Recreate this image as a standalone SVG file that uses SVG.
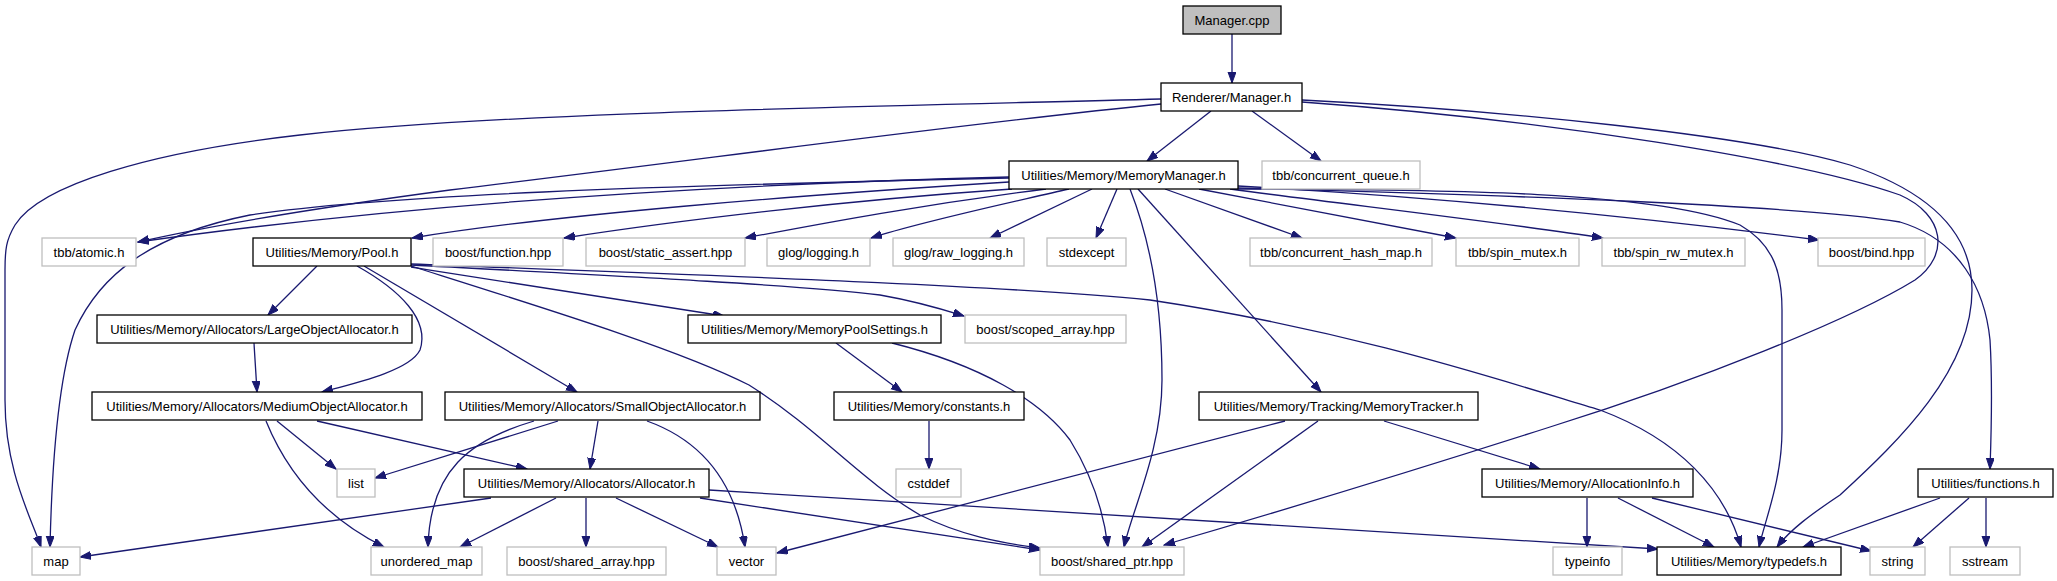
<svg xmlns="http://www.w3.org/2000/svg" width="2057" height="581" viewBox="0 0 2057 581">
<style>
.n rect{fill:#fff;stroke:#000;stroke-width:1.3}
.u rect{fill:#fff;stroke:#bfbfbf;stroke-width:1.3}
.root rect{fill:#bfbfbf;stroke:#000;stroke-width:1.3}
text{font-family:"Liberation Sans",Arial,sans-serif;font-size:13px;fill:#000;text-anchor:middle}
.e path{fill:none;stroke:#191970;stroke-width:1.3;marker-end:url(#a)}
</style>
<defs>
<marker id="a" markerUnits="userSpaceOnUse" markerWidth="12" markerHeight="9" refX="11" refY="4" orient="auto">
<path d="M0,0 L11,4 L0,8 z" fill="#191970" stroke="#191970" stroke-width="1"/>
</marker>
</defs>
<rect width="2057" height="581" fill="#fff"/>
<g class="e" id="edges">
<path d="M1232,34 L1232,83"/>
<path d="M1211,111 L1147,161"/>
<path d="M1252,111 L1321,161"/>
<path d="M1161,99 C900,106 500,112 300,135 C150,152 40,185 15,225 C6,240 5,250 5,270 L5,400 C5,470 30,515 41,547"/>
<path d="M1161,104 C950,125 700,160 450,190 C300,210 200,228 138,242"/>
<path d="M1009,177 C700,185 400,205 138,242"/>
<path d="M1009,178 C650,186 380,195 250,215 C150,235 100,275 75,330 C58,380 52,460 50,547"/>
<path d="M1009,182 C800,195 550,215 412,238"/>
<path d="M1012,189 C850,200 680,220 564,238"/>
<path d="M1046,189 C920,205 830,222 745,238"/>
<path d="M1069,189 C1000,205 920,222 871,238"/>
<path d="M1092,189 L990,238"/>
<path d="M1117,189 L1096,238"/>
<path d="M1130,189 C1150,240 1162,300 1162,380 C1162,450 1132,510 1124,547"/>
<path d="M1138,189 L1321,392"/>
<path d="M1165,189 L1302,238"/>
<path d="M1199,189 L1456,238"/>
<path d="M1230,189 C1350,205 1500,222 1603,238"/>
<path d="M1238,186 C1400,195 1600,212 1819,240"/>
<path d="M1234,189 C1400,190 1650,188 1740,225 C1775,245 1782,275 1782,310 L1782,430 C1782,480 1765,520 1759,547"/>
<path d="M1238,188 C1500,195 1800,205 1900,222 C1960,240 1985,290 1990,340 C1993,390 1991,440 1990,469"/>
<path d="M1302,100 C1500,110 1750,135 1850,165 C1940,195 1972,240 1972,290 C1972,370 1900,440 1840,495 C1810,515 1790,530 1777,547"/>
<path d="M1302,102 C1550,120 1800,160 1900,195 C1945,215 1950,255 1915,280 C1850,320 1700,380 1550,427 C1400,475 1250,520 1164,545"/>
<path d="M317,266 L268,315"/>
<path d="M357,266 C400,290 430,320 420,350 C410,370 360,382 322,392"/>
<path d="M364,266 L577,392"/>
<path d="M411,267 C520,285 630,302 724,316"/>
<path d="M411,265 C600,275 800,285 880,295 C920,302 945,310 964,316"/>
<path d="M411,264 C700,275 1000,285 1150,300 C1350,330 1500,380 1600,410 C1680,440 1725,490 1741,547"/>
<path d="M411,266 C550,310 680,350 749,385 C820,430 860,480 920,515 C960,535 1000,543 1040,548"/>
<path d="M836,343 L902,392"/>
<path d="M892,343 C980,365 1040,400 1070,440 C1095,480 1104,515 1108,547"/>
<path d="M929,421 L929,469"/>
<path d="M254,343 L257,392"/>
<path d="M277,421 L336,469"/>
<path d="M266,421 C290,480 330,520 384,547"/>
<path d="M317,421 L527,469"/>
<path d="M558,421 L375,478"/>
<path d="M534,421 C470,440 430,470 428,547"/>
<path d="M598,421 L590,469"/>
<path d="M647,421 C700,440 735,480 745,547"/>
<path d="M491,498 L80,557"/>
<path d="M556,498 L460,547"/>
<path d="M586,498 L586,547"/>
<path d="M616,498 L718,547"/>
<path d="M700,498 L1040,550"/>
<path d="M709,490 L1658,549"/>
<path d="M1285,421 L777,553"/>
<path d="M1318,421 L1142,547"/>
<path d="M1384,421 L1540,469"/>
<path d="M1587,498 L1587,547"/>
<path d="M1618,498 L1714,547"/>
<path d="M1652,498 L1871,551"/>
<path d="M1940,498 L1803,547"/>
<path d="M1969,498 L1913,547"/>
<path d="M1986,498 L1986,547"/>
</g>
<g id="n_manager_cpp" class="root"><rect x="1183" y="6" width="98" height="28"/><text x="1232" y="24.8">Manager.cpp</text></g>
<g id="n_renderer_manager" class="n"><rect x="1161" y="83" width="141" height="28"/><text x="1231.5" y="101.8">Renderer/Manager.h</text></g>
<g id="n_memorymanager" class="n"><rect x="1009" y="161" width="229" height="28"/><text x="1123.5" y="179.8">Utilities/Memory/MemoryManager.h</text></g>
<g id="n_concurrent_queue" class="u"><rect x="1262" y="161" width="158" height="28"/><text x="1341" y="179.8">tbb/concurrent_queue.h</text></g>
<g id="n_atomic" class="u"><rect x="42" y="238" width="94" height="28"/><text x="89" y="256.8">tbb/atomic.h</text></g>
<g id="n_pool" class="n"><rect x="253" y="238" width="158" height="28"/><text x="332" y="256.8">Utilities/Memory/Pool.h</text></g>
<g id="n_function" class="u"><rect x="433" y="238" width="130" height="28"/><text x="498" y="256.8">boost/function.hpp</text></g>
<g id="n_static_assert" class="u"><rect x="586" y="238" width="159" height="28"/><text x="665.5" y="256.8">boost/static_assert.hpp</text></g>
<g id="n_logging" class="u"><rect x="767" y="238" width="103" height="28"/><text x="818.5" y="256.8">glog/logging.h</text></g>
<g id="n_raw_logging" class="u"><rect x="893" y="238" width="131" height="28"/><text x="958.5" y="256.8">glog/raw_logging.h</text></g>
<g id="n_stdexcept" class="u"><rect x="1047" y="238" width="79" height="28"/><text x="1086.5" y="256.8">stdexcept</text></g>
<g id="n_concurrent_hash_map" class="u"><rect x="1250" y="238" width="182" height="28"/><text x="1341" y="256.8">tbb/concurrent_hash_map.h</text></g>
<g id="n_spin_mutex" class="u"><rect x="1456" y="238" width="123" height="28"/><text x="1517.5" y="256.8">tbb/spin_mutex.h</text></g>
<g id="n_spin_rw_mutex" class="u"><rect x="1602" y="238" width="143" height="28"/><text x="1673.5" y="256.8">tbb/spin_rw_mutex.h</text></g>
<g id="n_bind" class="u"><rect x="1818" y="238" width="107" height="28"/><text x="1871.5" y="256.8">boost/bind.hpp</text></g>
<g id="n_large" class="n"><rect x="97" y="315" width="315" height="28"/><text x="254.5" y="333.8">Utilities/Memory/Allocators/LargeObjectAllocator.h</text></g>
<g id="n_poolsettings" class="n"><rect x="688" y="315" width="253" height="28"/><text x="814.5" y="333.8">Utilities/Memory/MemoryPoolSettings.h</text></g>
<g id="n_scoped_array" class="u"><rect x="965" y="315" width="161" height="28"/><text x="1045.5" y="333.8">boost/scoped_array.hpp</text></g>
<g id="n_medium" class="n"><rect x="92" y="392" width="330" height="28"/><text x="257" y="410.8">Utilities/Memory/Allocators/MediumObjectAllocator.h</text></g>
<g id="n_small" class="n"><rect x="445" y="392" width="315" height="28"/><text x="602.5" y="410.8">Utilities/Memory/Allocators/SmallObjectAllocator.h</text></g>
<g id="n_constants" class="n"><rect x="834" y="392" width="190" height="28"/><text x="929" y="410.8">Utilities/Memory/constants.h</text></g>
<g id="n_tracker" class="n"><rect x="1199" y="392" width="279" height="28"/><text x="1338.5" y="410.8">Utilities/Memory/Tracking/MemoryTracker.h</text></g>
<g id="n_list" class="u"><rect x="337" y="469" width="38" height="28"/><text x="356" y="487.8">list</text></g>
<g id="n_allocator" class="n"><rect x="464" y="469" width="245" height="28"/><text x="586.5" y="487.8">Utilities/Memory/Allocators/Allocator.h</text></g>
<g id="n_cstddef" class="u"><rect x="896" y="469" width="65" height="28"/><text x="928.5" y="487.8">cstddef</text></g>
<g id="n_allocationinfo" class="n"><rect x="1482" y="469" width="211" height="28"/><text x="1587.5" y="487.8">Utilities/Memory/AllocationInfo.h</text></g>
<g id="n_functions" class="n"><rect x="1918" y="469" width="135" height="28"/><text x="1985.5" y="487.8">Utilities/functions.h</text></g>
<g id="n_map" class="u"><rect x="32" y="547" width="48" height="28"/><text x="56" y="565.8">map</text></g>
<g id="n_unordered_map" class="u"><rect x="371" y="547" width="111" height="28"/><text x="426.5" y="565.8">unordered_map</text></g>
<g id="n_shared_array" class="u"><rect x="507" y="547" width="159" height="28"/><text x="586.5" y="565.8">boost/shared_array.hpp</text></g>
<g id="n_vector" class="u"><rect x="717" y="547" width="59" height="28"/><text x="746.5" y="565.8">vector</text></g>
<g id="n_shared_ptr" class="u"><rect x="1040" y="547" width="144" height="28"/><text x="1112" y="565.8">boost/shared_ptr.hpp</text></g>
<g id="n_typeinfo" class="u"><rect x="1553" y="547" width="69" height="28"/><text x="1587.5" y="565.8">typeinfo</text></g>
<g id="n_typedefs" class="n"><rect x="1657" y="547" width="184" height="28"/><text x="1749" y="565.8">Utilities/Memory/typedefs.h</text></g>
<g id="n_string" class="u"><rect x="1870" y="547" width="55" height="28"/><text x="1897.5" y="565.8">string</text></g>
<g id="n_sstream" class="u"><rect x="1950" y="547" width="70" height="28"/><text x="1985" y="565.8">sstream</text></g>
</svg>
